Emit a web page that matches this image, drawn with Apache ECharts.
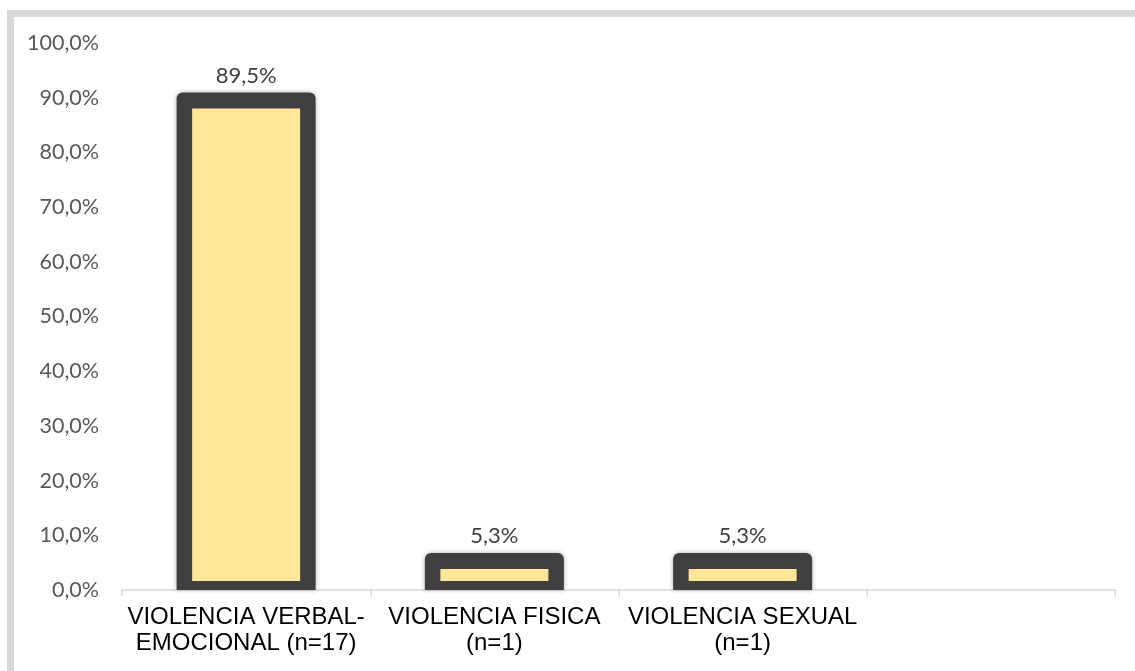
<!DOCTYPE html>
<html>
<head>
<meta charset="utf-8">
<script src="https://cdn.jsdelivr.net/npm/echarts@6/dist/echarts.min.js"></script>
<style>
  html, body { margin: 0; padding: 0; background: #ffffff; }
  #chart { width: 1135px; height: 671px; }
</style>
</head>
<body>
<div id="chart"></div>
<script>
// datos del gráfico
const categories = ['VIOLENCIA VERBAL-\nEMOCIONAL (n=17)', 'VIOLENCIA FISICA\n(n=1)', 'VIOLENCIA SEXUAL\n(n=1)', ''];
const percentValues = [89.5, 5.3, 5.3, null];
const yTicks = [0, 10, 20, 30, 40, 50, 60, 70, 80, 90, 100];

const fmt = v => v.toFixed(1).replace('.', ',') + '%';

const chart = echarts.init(document.getElementById('chart'), null, { renderer: 'canvas' });

// barra con borde grueso oscuro y relleno amarillo
function renderBar(params, api) {
  const v = api.value(1);
  if (v == null || isNaN(v)) return;
  const idx = api.value(0);
  const top = api.coord([idx, v]);
  const base = api.coord([idx, 0]);
  const band = api.size([1, 0])[0];
  const outerW = band * 0.56;
  const innerW = band * 0.435;
  const half = 8;
  const cx = top[0];
  return {
    type: 'group',
    children: [
      {
        type: 'rect',
        shape: { x: cx - outerW / 2, y: top[1] - half, width: outerW, height: base[1] - top[1] + half, r: [6, 6, 0, 0] },
        style: { fill: '#404040', shadowBlur: 5, shadowColor: 'rgba(0,0,0,0.3)' }
      },
      {
        type: 'rect',
        shape: { x: cx - innerW / 2, y: top[1] + half, width: innerW, height: Math.max(base[1] - 9 - top[1] - half, 0) },
        style: { fill: '#FFE699' }
      },
      {
        type: 'text',
        style: {
          x: cx, y: top[1] - half - 6,
          text: fmt(v),
          align: 'center', verticalAlign: 'bottom',
          fill: '#404040',
          font: '22px Lato'
        }
      }
    ]
  };
}

const option = {
  backgroundColor: '#ffffff',
  animation: false,
  graphic: [{
    type: 'rect',
    z: -10,
    shape: { x: 10.5, y: 13.5, width: 1140, height: 680 },
    style: { fill: 'none', stroke: '#D9D9D9', lineWidth: 7 }
  }],
  grid: { left: 122, right: 20, top: 43, bottom: 81 },
  xAxis: {
    type: 'category',
    data: categories,
    axisLine: { lineStyle: { color: '#D9D9D9', width: 1.5 } },
    axisTick: { show: true, alignWithLabel: false, length: 6, lineStyle: { color: '#D9D9D9', width: 1.5 } },
    axisLabel: {
      interval: 0,
      margin: 14,
      color: '#000000',
      fontFamily: 'Liberation Sans',
      fontSize: 24,
      lineHeight: 26,
      align: 'center'
    }
  },
  yAxis: {
    type: 'value',
    min: yTicks[0],
    max: yTicks[yTicks.length - 1],
    interval: 10,
    axisLine: { show: false },
    axisTick: { show: false },
    splitLine: { show: false },
    axisLabel: {
      margin: 23,
      color: '#595959',
      fontFamily: 'Lato',
      fontSize: 21.5,
      formatter: fmt
    }
  },
  series: [{
    type: 'custom',
    renderItem: renderBar,
    data: percentValues.map((v, i) => [i, v]),
    z: 1
  }]
};

chart.setOption(option);
</script>
</body>
</html>
